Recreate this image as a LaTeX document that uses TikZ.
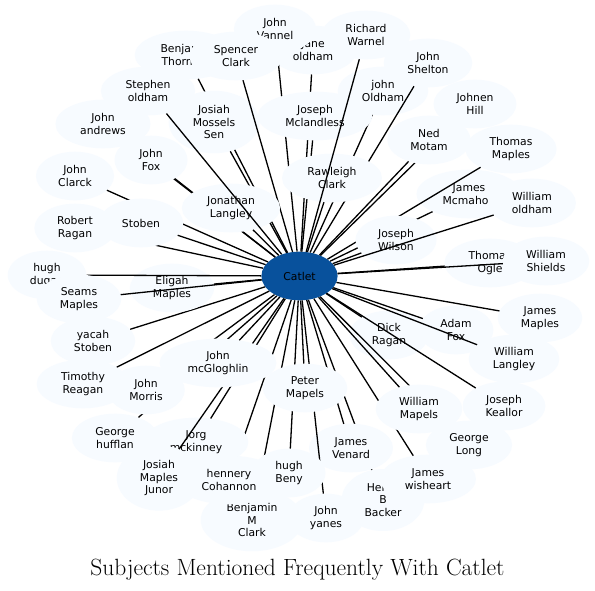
\documentclass[tikz,border=0pt]{standalone}
\usepackage{fontspec}
\usetikzlibrary{shapes.geometric}
\newfontfamily\dejavu{DejaVu Sans}
\definecolor{nodefill}{HTML}{F7FBFF}
\definecolor{hubfill}{HTML}{08519C}
\tikzset{
  person/.style={ellipse, fill=nodefill, draw=none, inner xsep=10.8pt, inner ysep=5.4pt,
    minimum width=73pt, minimum height=48.6pt, align=center,
    font=\dejavu\fontsize{10.8}{12.5}\selectfont, text=black},
  hub/.style={person, fill=hubfill},
  link/.style={line width=1.3pt, black}
}
\begin{document}
\begin{tikzpicture}[x=1pt,y=-1pt]
\useasboundingbox[fill=white] (0,0) rectangle (595,590);
\node[hub] (catlet) at (299.5,276) {Catlet};
\node[person] (jane) at (313,50) {Jane\\oldham}; \draw[link] (catlet) -- (jane);
\node[person] (vannel) at (275,29) {John\\Vannel}; \draw[link] (catlet) -- (vannel);
\node[person] (bthornton) at (186,55) {Benjamin\\Thornton}; \draw[link] (catlet) -- (bthornton);
\node[person] (jms) at (214,122) {Josiah\\Mossels\\Sen}; \draw[link] (catlet) -- (jms);
\node[person] (spencer) at (236,56) {Spencer\\Clark}; \draw[link] (catlet) -- (spencer);
\node[person] (joldham) at (383,91) {john\\Oldham}; \draw[link] (catlet) -- (joldham);
\node[person] (mclandless) at (315,116) {Joseph\\Mclandless}; \draw[link] (catlet) -- (mclandless);
\node[person] (shelton) at (428,63) {John\\Shelton}; \draw[link] (catlet) -- (shelton);
\node[person] (rawleigh) at (332,178) {Rawleigh\\Clark}; \draw[link] (catlet) -- (rawleigh);
\node[person] (warnel) at (366,35) {Richard\\Warnel}; \draw[link] (catlet) -- (warnel);
\node[person] (johnen) at (475,104) {Johnen\\Hill}; \draw[link] (catlet) -- (johnen);
\node[person] (ned) at (429,140) {Ned\\Motam}; \draw[link] (catlet) -- (ned);
\node[person] (mcmahon) at (469,194) {James\\Mcmahon}; \draw[link] (catlet) -- (mcmahon);
\node[person] (tmaples) at (511,149) {Thomas\\Maples}; \draw[link] (catlet) -- (tmaples);
\node[person] (jwilson) at (396,240) {Joseph\\Wilson}; \draw[link] (catlet) -- (jwilson);
\node[person] (woldham) at (532,203) {William\\oldham}; \draw[link] (catlet) -- (woldham);
\node[person] (ogle) at (490,263) {Thomas\\Ogle}; \draw[link] (catlet) -- (ogle);
\node[person] (shields) at (546,261) {William\\Shields}; \draw[link] (catlet) -- (shields);
\node[person] (dick) at (389,335) {Dick\\Ragan}; \draw[link] (catlet) -- (dick);
\node[person] (adam) at (456,330) {Adam\\Fox}; \draw[link] (catlet) -- (adam);
\node[person] (jmaples) at (540,318) {James\\Maples}; \draw[link] (catlet) -- (jmaples);
\node[person] (wlangley) at (514,359) {William\\Langley}; \draw[link] (catlet) -- (wlangley);
\node[person] (keallor) at (504,406) {Joseph\\Keallor}; \draw[link] (catlet) -- (keallor);
\node[person] (glong) at (469,445) {George\\Long}; \draw[link] (catlet) -- (glong);
\node[person] (backer) at (383,500) {Henry\\B\\Backer}; \draw[link] (catlet) -- (backer);
\node[person] (wisheart) at (428,479) {James\\wisheart}; \draw[link] (catlet) -- (wisheart);
\node[person] (wmapels) at (419,409) {William\\Mapels}; \draw[link] (catlet) -- (wmapels);
\node[person] (venard) at (351,448) {James\\Venard}; \draw[link] (catlet) -- (venard);
\node[person] (yanes) at (326,518) {John\\yanes}; \draw[link] (catlet) -- (yanes);
\node[person] (bmclark) at (252,520) {Benjamin\\M\\Clark}; \draw[link] (catlet) -- (bmclark);
\node[person] (cohannon) at (229,480) {hennery\\Cohannon}; \draw[link] (catlet) -- (cohannon);
\node[person] (beny) at (289,473) {hugh\\Beny}; \draw[link] (catlet) -- (beny);
\node[person] (peter) at (305,388) {Peter\\Mapels}; \draw[link] (catlet) -- (peter);
\node[person] (mckinney) at (196,442) {Jorg\\mckinney}; \draw[link] (catlet) -- (mckinney);
\node[person] (jmj) at (159,478) {Josiah\\Maples\\Junor}; \draw[link] (catlet) -- (jmj);
\node[person] (hufflan) at (115,438) {George\\hufflan}; \draw[link] (catlet) -- (hufflan);
\node[person] (morris) at (146,390) {John\\Morris}; \draw[link] (catlet) -- (morris);
\node[person] (mcg) at (218,363) {John\\mcGloghlin}; \draw[link] (catlet) -- (mcg);
\node[person] (treagan) at (83,384) {Timothy\\Reagan}; \draw[link] (catlet) -- (treagan);
\node[person] (yacah) at (93,341) {yacah\\Stoben}; \draw[link] (catlet) -- (yacah);
\node[person] (eligah) at (172,288) {Eligah\\Maples}; \draw[link] (catlet) -- (eligah);
\node[person] (dugan) at (47,275) {hugh\\dugan}; \draw[link] (catlet) -- (dugan);
\node[person] (seams) at (79,299) {Seams\\Maples}; \draw[link] (catlet) -- (seams);
\node[person] (clarck) at (75,176) {John\\Clarck}; \draw[link] (catlet) -- (clarck);
\node[person] (rragan) at (75,228) {Robert\\Ragan}; \draw[link] (catlet) -- (rragan);
\node[person] (stoben) at (141,223) {Stoben}; \draw[link] (catlet) -- (stoben);
\node[person] (andrews) at (103,124) {John\\andrews}; \draw[link] (catlet) -- (andrews);
\node[person] (jfox) at (151,160) {John\\Fox}; \draw[link] (catlet) -- (jfox);
\node[person] (jlangley) at (231,208) {Jonathan\\Langley}; \draw[link] (catlet) -- (jlangley);
\node[person] (stephen) at (148,91) {Stephen\\oldham}; \draw[link] (catlet) -- (stephen);
\node[anchor=base, font=\fontsize{23.5}{27}\selectfont] (title) at (297.5,575) {Subjects Mentioned Frequently With Catlet};
\end{tikzpicture}
\end{document}
